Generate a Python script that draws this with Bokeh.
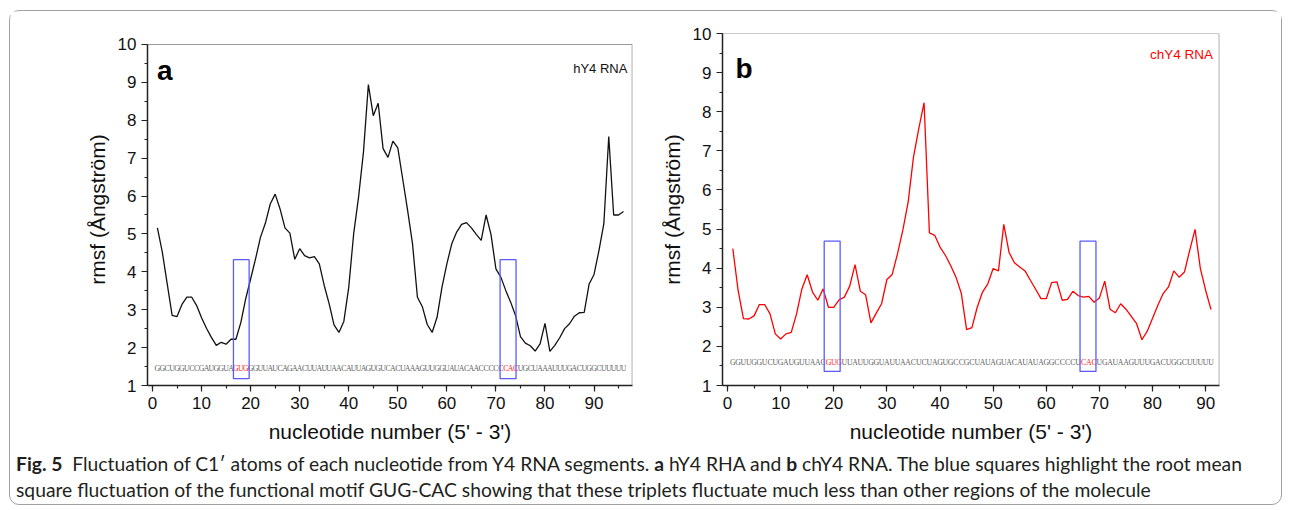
from bokeh.plotting import figure
from bokeh.models import Range1d, SingleIntervalTicker, Label, ColumnDataSource, Div
from bokeh.layouts import row, column
from bokeh.core.properties import value
from bokeh.embed import file_html
from bokeh.resources import INLINE

# ---------------- data ----------------
rmsf_a = [5.16, 4.52, 3.68, 2.85, 2.82, 3.14, 3.33, 3.33, 3.11, 2.79,
          2.51, 2.27, 2.06, 2.14, 2.09, 2.22, 2.22, 2.66, 3.29, 3.81,
          4.34, 4.91, 5.28, 5.79, 6.05, 5.66, 5.16, 5.02, 4.33, 4.61,
          4.43, 4.37, 4.40, 4.21, 3.64, 3.16, 2.60, 2.40, 2.69, 3.59,
          5.00, 5.97, 7.16, 8.94, 8.12, 8.45, 7.25, 7.02, 7.45, 7.27,
          6.45, 5.62, 4.74, 3.33, 3.08, 2.61, 2.40, 2.80, 3.59, 4.21,
          4.74, 5.05, 5.25, 5.30, 5.16, 4.99, 4.83, 5.50, 4.98, 4.08,
          3.86, 3.51, 3.20, 2.85, 2.29, 2.12, 2.05, 1.91, 2.10, 2.64,
          1.90, 2.06, 2.26, 2.50, 2.63, 2.83, 2.92, 2.93, 3.68, 3.93,
          4.56, 5.27, 7.57, 5.50, 5.50, 5.59]
nuc_a = list(range(1, len(rmsf_a) + 1))

rmsf_b = [4.50, 3.43, 2.71, 2.70, 2.78, 3.07, 3.07, 2.83, 2.32, 2.19,
          2.32, 2.36, 2.83, 3.47, 3.83, 3.39, 3.18, 3.47, 3.00, 3.00,
          3.19, 3.26, 3.54, 4.09, 3.41, 3.32, 2.60, 2.85, 3.09, 3.71,
          3.84, 4.37, 4.97, 5.69, 6.84, 7.57, 8.23, 4.90, 4.84, 4.54,
          4.33, 4.07, 3.77, 3.36, 2.43, 2.48, 3.00, 3.39, 3.60, 3.99,
          3.93, 5.12, 4.40, 4.14, 4.03, 3.93, 3.69, 3.46, 3.22, 3.22,
          3.63, 3.65, 3.18, 3.20, 3.41, 3.30, 3.26, 3.28, 3.13, 3.24,
          3.67, 2.95, 2.86, 3.09, 2.95, 2.77, 2.58, 2.17, 2.39, 2.72,
          3.05, 3.35, 3.52, 3.93, 3.77, 3.90, 4.46, 4.99, 3.99, 3.43,
          2.94]
nuc_b = list(range(1, len(rmsf_b) + 1))

seq_a = "GGCUGGUCCGAUGGUAGUGGGUUAUCAGAACUUAUUAACAUUAGUGUCACUAAAGUUGGUAUACAACCCCCCACUGCUAAAUUUGACUGGCUUUUU"
motif_a = [17, 18, 19, 72, 73, 74]
seq_b = "GGUUGGUCUGAUGUUAACGUGUUAUUGGUAUUAACUCUAGUGCCGCUAUAGUACAUAUAGGCCCCUCACUGAUAAGUUUGACUGGCUUUUU"
motif_b = [19, 20, 21, 67, 68, 69]

box_a_left = [16.5, 70.85]
box_a_right = [19.7, 74.1]
box_a_bottom = [1.18, 1.18]
box_a_top = [4.32, 4.32]

box_b_left = [18.2, 66.35]
box_b_right = [21.2, 69.35]
box_b_bottom = [1.36, 1.36]
box_b_top = [4.69, 4.69]

y_ticks_max = 10

FONT = "Liberation Sans"


def style_axes(p):
    for ax in (p.xaxis[0], p.yaxis[0]):
        ax.axis_line_width = 1.5
        ax.axis_line_color = "#222222"
        ax.major_tick_line_color = "#222222"
        ax.minor_tick_line_color = "#222222"
        ax.major_tick_line_width = 1.2
        ax.minor_tick_line_width = 1.2
        ax.major_tick_out = 6
        ax.major_tick_in = 0
        ax.minor_tick_out = 3
        ax.minor_tick_in = 0
        ax.major_label_text_font = FONT
        ax.major_label_text_font_size = "17px"
        ax.major_label_text_color = "#111111"
        ax.axis_label_text_font = FONT
        ax.axis_label_text_font_size = "21px"
        ax.axis_label_text_font_style = "normal"
        ax.axis_label_text_color = "#111111"
        ax.major_label_standoff = 5
    p.xaxis.axis_label_standoff = 8
    p.yaxis.axis_label_standoff = 6
    p.xaxis.ticker = SingleIntervalTicker(interval=10, num_minor_ticks=2)
    p.yaxis.ticker = SingleIntervalTicker(interval=1, num_minor_ticks=2)
    p.yaxis.bounds = (1, y_ticks_max)
    p.xaxis.axis_label = "nucleotide number (5' - 3')"
    p.yaxis.axis_label = "rmsf (Ångström)"
    p.xgrid.visible = False
    p.ygrid.visible = False
    p.outline_line_color = None


def make_panel(width, height, xr, ytop, border_left, border_right,
               nuc, rmsf, color, seq, motif, seq_y, bl, br, bb, bt,
               letter, letter_x, letter_y, tag, tag_color, tag_x, tag_y, tag_size):
    p = figure(width=width, height=height, x_range=Range1d(*xr), y_range=Range1d(1, ytop),
               output_backend="svg", toolbar_location=None,
               min_border_left=border_left, min_border_right=border_right,
               min_border_top=22, min_border_bottom=63)
    p.background_fill_color = "white"
    p.border_fill_color = "white"
    style_axes(p)

    # top and right frame border (gray) at y = 10 / right edge
    x0, x1 = xr
    p.line([x0, x1 - 0.05, x1 - 0.05], [y_ticks_max, y_ticks_max, 1],
           line_color="#9a9a9a", line_width=1.2)

    p.line(nuc, rmsf, line_color=color, line_width=1.3)

    chars = list(seq)
    pos = list(range(1, len(chars) + 1))
    cols = ["#ff2020" if i in motif else "#5e5e5e" for i in pos]
    src = ColumnDataSource(dict(x=pos, y=[seq_y] * len(pos), t=chars, c=cols))
    p.text(x="x", y="y", text="t", text_color="c", source=src,
           text_font=value("Liberation Serif"), text_font_size="7.8px",
           text_align="center", text_baseline="middle")

    p.quad(left=bl, right=br, bottom=bb, top=bt, fill_color=None,
           line_color="#5a5aff", line_width=1.3)

    p.add_layout(Label(x=letter_x, y=letter_y, text=letter, text_font=FONT,
                       text_font_size="28px", text_font_style="bold",
                       text_color="#000000", text_baseline="alphabetic"))
    p.add_layout(Label(x=tag_x, y=tag_y, text=tag, text_font=FONT,
                       text_font_size=tag_size, text_color=tag_color,
                       text_align="right", text_baseline="alphabetic"))
    return p


H = 437
p1 = make_panel(630, H, (-1.02, 97.84), 10.290, 137, 8,
                nuc_a, rmsf_a, "#111111", seq_a, motif_a, 1.44,
                box_a_left, box_a_right, box_a_bottom, box_a_top,
                "a", 0.9, 9.31, "hY4 RNA", "#111111", 96.8, 9.36, "13px")
p2 = make_panel(641, H, (-0.94, 92.6), 10.0, 82, 62,
                nuc_b, rmsf_b, "#ff0000", seq_b, motif_b, 1.60,
                box_b_left, box_b_right, box_b_bottom, box_b_top,
                "b", 1.5, 9.11, "chY4 RNA", "#ff0000", 91.4, 9.47, "13.5px")

caption = ('<div style="padding:3px 0 0 6px; font-family:Lato; font-size:19.3px; '
           'line-height:26px; color:#231f20; white-space:nowrap;">'
           '<b>Fig. 5</b>&nbsp; Fluctuation of C1&prime; atoms of each nucleotide from Y4 RNA segments. '
           '<b>a</b> hY4 RHA and <b>b</b> chY4 RNA. The blue squares highlight the root mean<br>'
           'square fluctuation of the functional motif GUG-CAC showing that these triplets '
           'fluctuate much less than other regions of the molecule</div>')
div = Div(text=caption, width=1271, height=56, margin=0)

layout = column(row(p1, p2), div, margin=(10, 0, 0, 9),
                styles={"border": "1px solid #a0a0a0", "border-radius": "10px"})

open("out.html", "w").write(file_html(layout, INLINE))
